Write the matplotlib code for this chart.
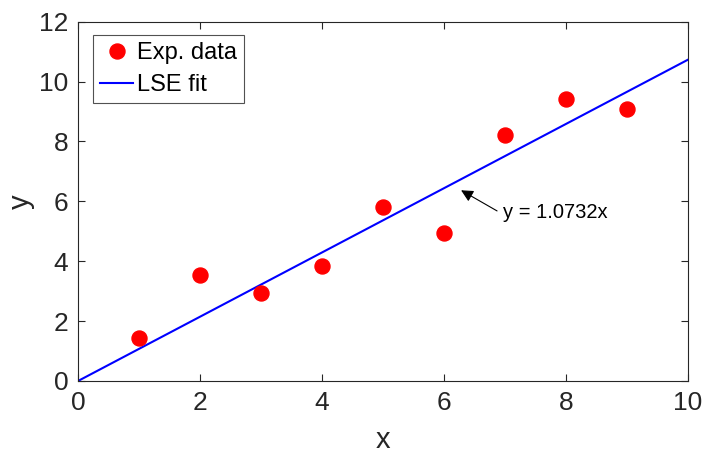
import matplotlib
matplotlib.use("Agg")
import matplotlib.pyplot as plt
from matplotlib.patches import FancyArrowPatch

plt.rcParams['font.family'] = ['Liberation Sans', 'DejaVu Sans']

x_data = [1, 2, 3, 4, 5, 6, 7, 8, 9]
y_data = [1.43, 3.53, 2.93, 3.83, 5.8, 4.93, 8.23, 9.43, 9.1]
slope = 1.0732
fit_x = [0, 10]
fit_y = [slope * v for v in fit_x]
xticks = [0, 2, 4, 6, 8, 10]
yticks = [0, 2, 4, 6, 8, 10, 12]
note_text = 'y = 1.0732x'
note_tip = (6.28, 6.37)
note_tail = (6.87, 5.68)
note_pos = (6.96, 5.63)

dark = '#262626'
fig = plt.figure(figsize=(7.02, 4.55), dpi=100)
ax = fig.add_axes([78/702, 74/455, 610/702, 359.3/455])
ax.plot(x_data, y_data, 'o', color='#ff0000', markersize=10.8, label='Exp. data', zorder=3)
ax.plot(fit_x, fit_y, '-', color='#0000ff', linewidth=1.5, label='LSE fit', zorder=2)
ax.set_xlim(0, 10)
ax.set_ylim(0, 12)
ax.set_xticks(xticks)
ax.set_yticks(yticks)
ax.tick_params(direction='in', length=5, width=0.8, top=True, right=True,
               labelsize=19, colors=dark, pad=7)
for s in ax.spines.values():
    s.set_color(dark)
    s.set_linewidth(0.8)
ax.set_xlabel('x', fontsize=21, color=dark, labelpad=8)
ax.set_ylabel('y', fontsize=21, color=dark, labelpad=3)
ax.text(note_pos[0], note_pos[1], note_text, fontsize=14.5, va='center', ha='left', color='black')
arr = FancyArrowPatch(note_tail, note_tip, arrowstyle='-|>', color='black', lw=0.8,
                      mutation_scale=18, shrinkA=0, shrinkB=0)
ax.add_patch(arr)
leg = ax.legend(loc='upper left', bbox_to_anchor=(0.0246, 0.962), fontsize=17,
                frameon=True, fancybox=False, edgecolor=dark, borderaxespad=0,
                handlelength=1.4, handletextpad=0.17, borderpad=0.3, labelspacing=0.4)
leg.get_frame().set_linewidth(0.8)
fig.savefig('out.png', dpi=100)
